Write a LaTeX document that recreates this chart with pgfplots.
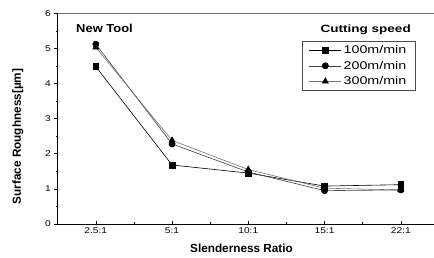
\documentclass[border=0pt]{standalone}
\usepackage{fontspec}
\setmainfont{Liberation Sans}
\newfontfamily\tickf{Liberation Sans}[FakeStretch=1.22]
\newfontfamily\legf{Liberation Sans}[FakeStretch=1.28]
\newfontfamily\cutf{Liberation Sans}[FakeStretch=1.28]
\newfontfamily\newf{Liberation Sans}[FakeStretch=1.12]
\usepackage{pgfplots}
\pgfplotsset{compat=1.18}
\begin{document}
\begin{tikzpicture}
\begin{axis}[
  scale only axis,
  width=378.96bp, height=210.7bp,
  xmin=-0.5, xmax=4.47, ymin=0, ymax=6,
  xtick={0,1,2,3,4},
  xticklabels={2.5:1,5:1,10:1,15:1,22:1},
  ytick={0,1,2,3,4,5,6},
  minor x tick num=1, minor y tick num=1,
  xtick pos=bottom, ytick pos=left,
  xtick align=inside, ytick align=outside,
  major tick length=3.5bp, minor tick length=2bp,
  every tick/.style={black, line width=0.6bp},
  axis line style={draw=none},
  ticklabel style={font=\tickf\fontsize{8.4}{10}\selectfont},
  /pgf/number format/assume math mode=true,
  xlabel={Slenderness Ratio},
  ylabel={Surface Roughness[µm]},
  label style={font=\bfseries\fontsize{11.8}{13}\selectfont},
  xlabel style={at={(axis description cs:0.485,-0.114)}, anchor=center},
  ylabel style={at={(axis description cs:-0.1048,0.415)}, anchor=center},
  legend style={at={(axis description cs:0.644,0.870)}, anchor=north west,
    draw=black!70, line width=0.6bp, font=\legf\fontsize{11.2}{12.5}\selectfont,
    inner xsep=7bp, inner ysep=2.5bp, row sep=2bp},
  legend cell align=left,
  legend image code/.code={\draw[mark repeat=2,mark phase=2,#1] plot coordinates {(0bp,0bp) (16bp,0bp) (32bp,0bp)};},
  clip=false,
]
\draw[black, line width=0.8bp] (rel axis cs:0,0) -- (rel axis cs:1,0);
\draw[black, line width=0.8bp] (rel axis cs:0,0) -- (rel axis cs:0,1);
\draw[black!55, line width=1.4bp] (rel axis cs:0,1) -- (rel axis cs:1,1);
\addplot[black, line width=0.6bp, mark=square*, mark size=2.9bp, mark options={fill=black}]
  coordinates {(0,4.48) (1,1.68) (2,1.45) (3,1.08) (4,1.12)};
\addlegendentry{100m/min\hspace{7bp}}
\addplot[black!75, line width=0.6bp, mark=*, mark size=3.1bp, mark options={fill=black,draw=black}]
  coordinates {(0,5.12) (1,2.28) (2,1.48) (3,0.95) (4,0.97)};
\addlegendentry{200m/min\hspace{7bp}}
\addplot[black!55, line width=0.6bp, mark=triangle*, mark size=3.5bp, mark options={fill=black,draw=black}]
  coordinates {(0,5.03) (1,2.38) (2,1.55) (3,1.02) (4,0.97)};
\addlegendentry{300m/min\hspace{7bp}}
\node[anchor=west, font=\newf\bfseries\fontsize{11.6}{13}\selectfont] at (axis description cs:0.0396,0.930) {New Tool};
\node[anchor=center, font=\cutf\bfseries\fontsize{10.6}{12}\selectfont] at (axis description cs:0.8128,0.922) {Cutting speed};
\coordinate (O) at (rel axis cs:0,0);
\end{axis}
\pgfresetboundingbox
\path ([shift={(-57.7bp,-34bp)}]O) rectangle ([shift={(376.3bp,224bp)}]O);
\end{tikzpicture}
\end{document}
